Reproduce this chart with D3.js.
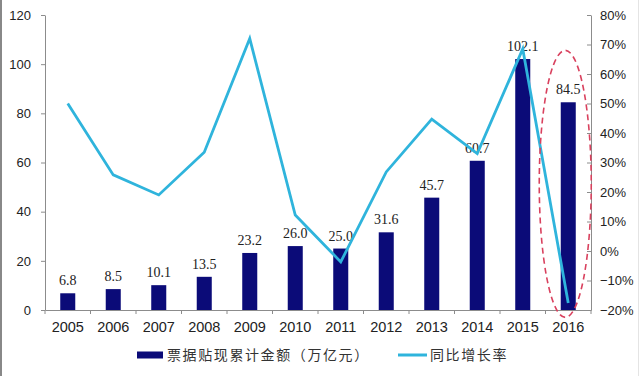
<!DOCTYPE html>
<html>
<head>
<meta charset="utf-8">
<script src="https://cdn.jsdelivr.net/npm/d3@7"></script>
<style>
  body { margin: 0; background: #fff; }
  svg { display: block; }
</style>
</head>
<body>
<div id="chart"></div>
<script>
// data
const years = ["2005", "2006", "2007", "2008", "2009", "2010", "2011", "2012", "2013", "2014", "2015", "2016"];
const amount = [6.8, 8.5, 10.1, 13.5, 23.2, 26.0, 25.0, 31.6, 45.7, 60.7, 102.1, 84.5];
const growth = [0.50, 0.258, 0.19, 0.335, 0.72, 0.122, -0.037, 0.268, 0.447, 0.33, 0.685, -0.176];
const leftTicks = [0, 20, 40, 60, 80, 100, 120];
const rightTicks = [-0.2, -0.1, 0, 0.1, 0.2, 0.3, 0.4, 0.5, 0.6, 0.7, 0.8];
const seriesNames = ["票据贴现累计金额（万亿元）", "同比增长率"];

const width = 640, height = 376,
  margin = { top: 15, right: 49, bottom: 66, left: 45 };

const svg = d3.select("#chart").append("svg")
  .attr("width", width)
  .attr("height", height);

// frame edges of the original image
svg.append("line").attr("x1", 1).attr("x2", 1).attr("y1", 0).attr("y2", height)
  .attr("stroke", "#888").attr("stroke-width", 2);
svg.append("line").attr("x1", 638.5).attr("x2", 638.5).attr("y1", 0).attr("y2", height)
  .attr("stroke", "#e4e4e4").attr("stroke-width", 1);

const x = d3.scaleBand()
  .domain(years)
  .range([margin.left, width - margin.right])
  .paddingInner(0.67)
  .paddingOuter(0.335);

const xOuter = d3.scaleBand().domain(years).range([margin.left, width - margin.right]);

const yL = d3.scaleLinear().domain([0, 120]).range([height - margin.bottom, margin.top]);
const yR = d3.scaleLinear().domain([-0.2, 0.8]).range([height - margin.bottom, margin.top]);

const axisColor = "#8c8c8c";
const sans = "'Liberation Sans', Arial, sans-serif";

// left axis
const gL = svg.append("g")
  .attr("transform", `translate(${margin.left},0)`)
  .call(d3.axisLeft(yL).tickValues(leftTicks).tickSize(4).tickSizeOuter(0).tickPadding(10));
gL.selectAll("text").attr("font-family", sans).attr("font-size", 13).attr("fill", "#222");

// right axis
const gR = svg.append("g")
  .attr("transform", `translate(${width - margin.right},0)`)
  .call(d3.axisRight(yR).tickValues(rightTicks).tickSize(-4).tickSizeOuter(0).tickPadding(9)
    .tickFormat(d3.format(".0%")));
gR.selectAll("text").attr("font-family", sans).attr("font-size", 13).attr("fill", "#222");

// bottom axis: labels centered, ticks at band edges
const gB = svg.append("g")
  .attr("transform", `translate(0,${height - margin.bottom})`)
  .call(d3.axisBottom(xOuter).tickSize(0).tickPadding(12));
gB.selectAll("text").attr("font-family", sans).attr("font-size", 14.5).attr("fill", "#222");
gB.selectAll(".tick")
  .append("line")
  .attr("x1", xOuter.bandwidth() / 2).attr("x2", xOuter.bandwidth() / 2)
  .attr("y1", 0).attr("y2", 4)
  .attr("stroke", axisColor);
gB.append("line")
  .attr("x1", margin.left).attr("x2", margin.left)
  .attr("y1", 0).attr("y2", 4).attr("stroke", axisColor);

[gL, gR, gB].forEach(g => {
  g.select(".domain").attr("stroke", axisColor);
  g.selectAll(".tick line").attr("stroke", axisColor);
});

// bars
svg.selectAll("rect.bar")
  .data(amount)
  .join("rect")
  .attr("class", "bar")
  .attr("x", (d, i) => x(years[i]))
  .attr("width", x.bandwidth())
  .attr("y", d => yL(d))
  .attr("height", d => yL(0) - yL(d))
  .attr("fill", "#0b0b78");

// bar labels
svg.selectAll("text.lbl")
  .data(amount)
  .join("text")
  .attr("class", "lbl")
  .attr("x", (d, i) => x(years[i]) + x.bandwidth() / 2)
  .attr("y", d => yL(d) - 8)
  .attr("text-anchor", "middle")
  .attr("font-family", "'Liberation Serif', 'Times New Roman', serif")
  .attr("font-size", 14)
  .attr("fill", "#222")
  .text(d => d.toFixed(1));

// growth line
const line = d3.line()
  .x((d, i) => x(years[i]) + x.bandwidth() / 2)
  .y(d => yR(d));

svg.append("path")
  .datum(growth)
  .attr("d", line)
  .attr("fill", "none")
  .attr("stroke", "#2fb4dc")
  .attr("stroke-width", 2.8)
  .attr("stroke-linejoin", "miter");

// red dashed ellipse around 2016
const eTop = yR(0.68), eBottom = yR(-0.225);
svg.append("ellipse")
  .attr("cx", x("2016") + x.bandwidth() / 2 - 3)
  .attr("cy", (eTop + eBottom) / 2)
  .attr("rx", 26)
  .attr("ry", (eBottom - eTop) / 2)
  .attr("fill", "none")
  .attr("stroke", "#d9415e")
  .attr("stroke-width", 1.6)
  .attr("stroke-dasharray", "6,4");

// legend
const cjk = "'Noto Sans CJK SC', sans-serif";
const legY = 355;
svg.append("rect")
  .attr("x", 137).attr("y", legY - 3.5)
  .attr("width", 26).attr("height", 7)
  .attr("fill", "#0b0b78");
svg.append("text")
  .attr("x", 167).attr("y", legY).attr("dy", "0.36em")
  .attr("font-family", cjk).attr("font-size", 14).attr("letter-spacing", 1.6)
  .attr("fill", "#333")
  .text(seriesNames[0]);
svg.append("line")
  .attr("x1", 398).attr("x2", 427).attr("y1", legY).attr("y2", legY)
  .attr("stroke", "#2fb4dc").attr("stroke-width", 3);
svg.append("text")
  .attr("x", 430).attr("y", legY).attr("dy", "0.36em")
  .attr("font-family", cjk).attr("font-size", 14).attr("letter-spacing", 1.6)
  .attr("fill", "#333")
  .text(seriesNames[1]);
</script>
</body>
</html>
